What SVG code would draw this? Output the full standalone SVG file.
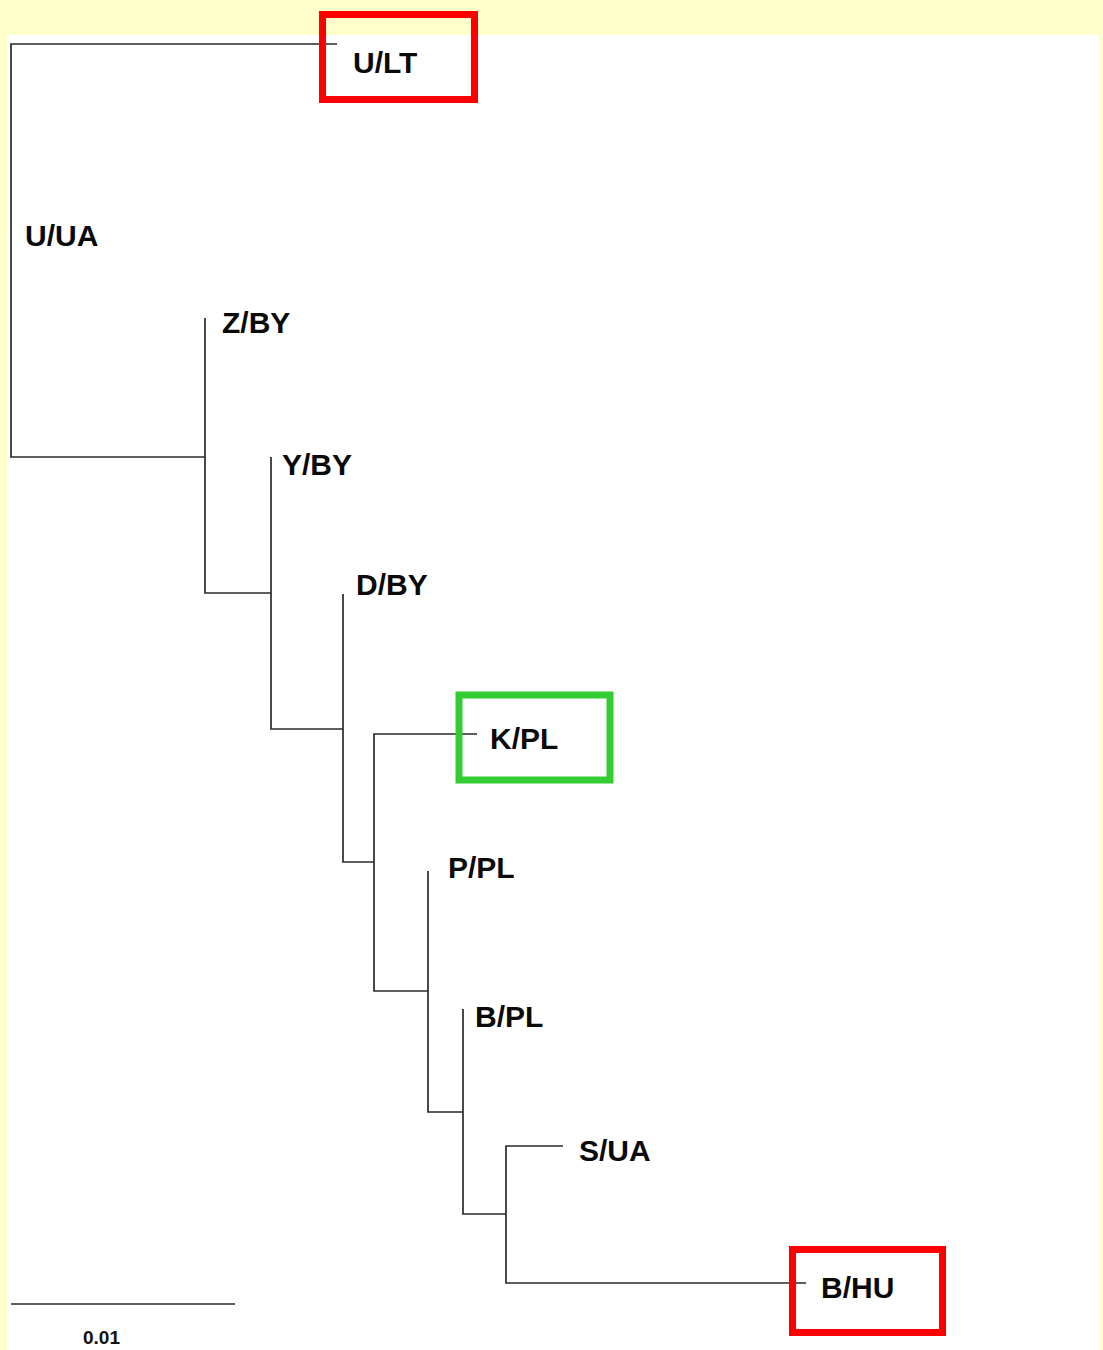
<svg xmlns="http://www.w3.org/2000/svg" width="1103" height="1350" viewBox="0 0 1103 1350">
<style>
.br{stroke:#2a2a2a;stroke-width:1.7;fill:none}
.lb{font-family:"Liberation Sans",Arial,sans-serif;font-weight:bold;font-size:30px;fill:#0a0a0a}
.sc{font-family:"Liberation Sans",Arial,sans-serif;font-weight:bold;font-size:19px;fill:#111}
.hl{fill:none;stroke-width:7}
</style>
<rect x="0" y="0" width="1103" height="1350" fill="#FFFFCC"/>
<rect x="7" y="35" width="1092" height="1315" fill="#FFFFFF"/>
<g id="connectors">
<path class="br" d="M337,44 H11 V457 H205"/>
<path class="br" d="M205,318 V593 H271"/>
<path class="br" d="M271,457 V729 H343"/>
<path class="br" d="M343,594 V862 H374"/>
<path class="br" d="M477,734 H374 V991 H428"/>
<path class="br" d="M428,871 V1112 H463"/>
<path class="br" d="M463,1009 V1214 H506"/>
<path class="br" d="M563,1146 H506 V1283 H806"/>
</g>
<g id="node-ULT">
<rect class="hl" x="322.5" y="14.5" width="152" height="85" stroke="#FF0000"/>
<text class="lb" x="353" y="73">U/LT</text>
</g>
<g id="node-UUA"><text class="lb" x="25" y="246">U/UA</text></g>
<g id="node-ZBY"><text class="lb" x="222" y="333">Z/BY</text></g>
<g id="node-YBY"><text class="lb" x="282" y="475">Y/BY</text></g>
<g id="node-DBY"><text class="lb" x="356" y="595">D/BY</text></g>
<g id="node-KPL">
<rect class="hl" x="459" y="695" width="151" height="85" stroke="#33CC33"/>
<text class="lb" x="490" y="749">K/PL</text>
</g>
<g id="node-PPL"><text class="lb" x="448" y="878">P/PL</text></g>
<g id="node-BPL"><text class="lb" x="475" y="1027">B/PL</text></g>
<g id="node-SUA"><text class="lb" x="579" y="1161">S/UA</text></g>
<g id="node-BHU">
<rect class="hl" x="792.5" y="1249.5" width="150" height="83" stroke="#FF0000"/>
<text class="lb" x="821" y="1298">B/HU</text>
</g>
<g id="scale">
<line class="br" x1="11" y1="1304" x2="235" y2="1304"/>
<text class="sc" x="83" y="1344">0.01</text>
</g>
</svg>
